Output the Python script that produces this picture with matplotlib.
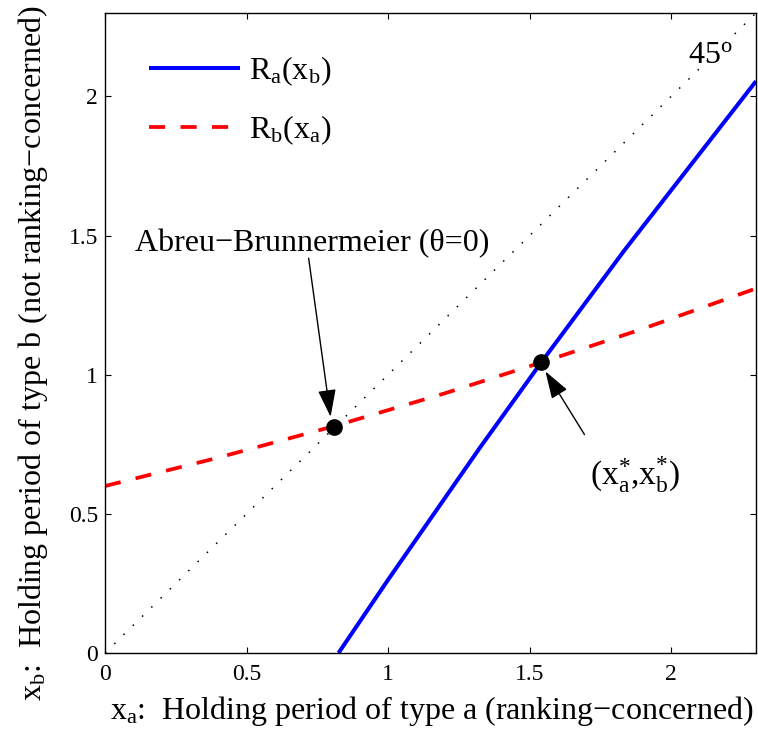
import matplotlib
matplotlib.use('Agg')
import matplotlib.pyplot as plt

plt.rcParams['font.family'] = ['Liberation Serif', 'DejaVu Serif']
plt.rcParams['mathtext.fontset'] = 'custom'
plt.rcParams['mathtext.rm'] = 'Liberation Serif'
plt.rcParams['mathtext.it'] = 'Liberation Serif:italic'
plt.rcParams['mathtext.bf'] = 'Liberation Serif:bold'

# ---- data ----
ra_x = [0.825, 1.0, 1.324, 1.541, 1.835, 2.3]
ra_y = [0.0, 0.263, 0.737, 1.044, 1.447, 2.055]
rb_x = [0.0, 0.4, 0.805, 1.2, 1.541, 1.9, 2.3]
rb_y = [0.600, 0.702, 0.814, 0.933, 1.044, 1.165, 1.310]
diag_x = [0.0, 2.3]
diag_y = [0.0, 2.3]
ab_x, ab_y = [0.81], [0.813]
eq_x, eq_y = [1.541], [1.044]
ticks = [0, 0.5, 1, 1.5, 2]
tick_labels = ['0', '0.5', '1', '1.5', '2']
legend_labels = [r'R$_{\rm a}$(x$_{\rm b}$)', r'R$_{\rm b}$(x$_{\rm a}$)']
xlabel = r'x$_{\rm a}$:  Holding period of type a (ranking−concerned)'
ylabel = r'x$_{\rm b}$:  Holding period of type b (not ranking−concerned)'

fig = plt.figure(figsize=(7.58, 7.40), dpi=100)
ax = fig.add_axes([105/758, 1-653/740, 651/758, 640/740])

ax.plot(diag_x, diag_y, color='black', lw=1.1, linestyle=(0, (1, 7.5)))
l1, = ax.plot(ra_x, ra_y, color='#0000ff', lw=2.9, solid_capstyle='butt')
l2, = ax.plot(rb_x, rb_y, color='#ff0000', lw=2.7, dashes=(4.3, 4.1), dash_capstyle='butt')
ax.plot(ab_x, ab_y, 'o', color='black', ms=11)
ax.plot(eq_x, eq_y, 'o', color='black', ms=11)

ax.set_xlim(0, 2.3)
ax.set_ylim(0, 2.3)
ax.set_xticks(ticks)
ax.set_xticklabels(tick_labels)
ax.set_yticks(ticks)
ax.set_yticklabels(tick_labels)
ax.tick_params(direction='in', length=4.5, width=0.8, top=True, right=True,
               labelsize=17)
ax.tick_params(axis='x', pad=8)
ax.tick_params(axis='y', pad=5)
for s in ax.spines.values():
    s.set_linewidth(1.0)

ax.set_xlabel(xlabel, fontsize=23)
ax.set_ylabel(ylabel, fontsize=23)
ax.xaxis.set_label_coords(0.502, -0.064)
ax.xaxis.label.set_verticalalignment('top')
ax.yaxis.set_label_coords(-0.085, 0.468)

leg = ax.legend([l1, l2], legend_labels, loc='upper left',
                bbox_to_anchor=(0.067, 0.935), frameon=False, fontsize=23,
                handlelength=2.85, handletextpad=0.3, labelspacing=0.78,
                borderpad=0, borderaxespad=0)

ax.text(2.061, 2.122, r'45$^{\rm o}$', fontsize=23, ha='left', va='baseline')

ax.annotate('Abreu−Brunnermeier (θ=0)', xy=(0.797, 0.849), xytext=(0.732, 1.444),
            fontsize=23, ha='center', va='baseline',
            arrowprops=dict(arrowstyle='-|>,head_length=0.85,head_width=0.28',
                            color='black', lw=1.0, mutation_scale=20,
                            shrinkA=0, shrinkB=0,
                            patchA=None, relpos=(0.49, 0.0)))
ax.annotate('', xy=(1.556, 1.012), xytext=(1.694, 0.785),
            arrowprops=dict(arrowstyle='-|>,head_length=0.85,head_width=0.28',
                            color='black', lw=1.0, mutation_scale=20,
                            shrinkA=0, shrinkB=0))
ax.text(1.873, 0.602, r'(x$_{\rm a}^{*}$,x$_{\rm b}^{*}$)', fontsize=24,
        ha='center', va='baseline')

fig.savefig('out.png', dpi=100)
